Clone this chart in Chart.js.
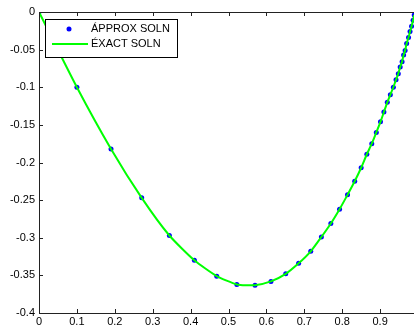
<!DOCTYPE html>
<html>
<head>
<meta charset="utf-8">
<script src="https://cdn.jsdelivr.net/npm/chart.js@4.4.0/dist/chart.umd.min.js"></script>
<style>
  html, body { margin: 0; padding: 0; background: #fff; overflow: hidden; }
  #wrap { width: 414px; height: 326px; overflow: hidden; }
</style>
</head>
<body>
<div id="wrap"><canvas id="chart" width="424" height="326"></canvas></div>
<script>
const xVals = [0, 0.100, 0.190, 0.271, 0.344, 0.410, 0.469, 0.522, 0.570, 0.612,
  0.651, 0.685, 0.717, 0.745, 0.770, 0.793, 0.814, 0.833, 0.850, 0.865,
  0.878, 0.890, 0.901, 0.910, 0.919, 0.927, 0.935, 0.942, 0.948, 0.953,
  0.958, 0.962, 0.966, 0.970, 0.975, 0.979, 0.983, 0.987, 0.990];
const approxY = [0, -0.100, -0.182, -0.247, -0.297, -0.330, -0.351, -0.362, -0.363, -0.358,
  -0.348, -0.334, -0.318, -0.299, -0.281, -0.262, -0.243, -0.225, -0.207, -0.189,
  -0.175, -0.160, -0.146, -0.133, -0.120, -0.110, -0.100, -0.090, -0.082, -0.073,
  -0.066, -0.057, -0.051, -0.042, -0.034, -0.026, -0.019, -0.011, -0.004];
const exactY = approxY.slice();
const legendLabels = ['ÁPPROX SOLN', 'ÉXACT SOLN'];

const font = '11px "Liberation Sans", Arial, sans-serif';

const toPts = ys => xVals.map((x, i) => ({ x: x, y: ys[i] }));

// matlab style box, inward ticks and legend
const boxPlugin = {
  id: 'box',
  afterDraw(chart) {
    const ctx = chart.ctx;
    const a = chart.chartArea;
    const xs = chart.scales.x, ys = chart.scales.y;
    ctx.save();
    ctx.strokeStyle = '#222';
    ctx.lineWidth = 1;
    ctx.strokeRect(Math.round(a.left) + 0.5, Math.round(a.top) + 0.5,
      Math.round(a.right - a.left), Math.round(a.bottom - a.top));
    ctx.beginPath();
    xs.ticks.forEach(t => {
      const px = Math.round(xs.getPixelForValue(t.value)) + 0.5;
      ctx.moveTo(px, a.bottom); ctx.lineTo(px, a.bottom - 4);
      ctx.moveTo(px, a.top); ctx.lineTo(px, a.top + 4);
    });
    ys.ticks.forEach(t => {
      const py = Math.round(ys.getPixelForValue(t.value)) + 0.5;
      ctx.moveTo(a.left, py); ctx.lineTo(a.left + 4, py);
      ctx.moveTo(a.right, py); ctx.lineTo(a.right - 4, py);
    });
    ctx.stroke();

    // legend
    ctx.fillStyle = '#fff';
    ctx.fillRect(45.5, 19.5, 132, 38);
    ctx.strokeStyle = '#000';
    ctx.strokeRect(45.5, 19.5, 132, 38);
    ctx.fillStyle = '#0000ff';
    ctx.beginPath();
    ctx.arc(69, 29, 2.5, 0, Math.PI * 2);
    ctx.fill();
    ctx.strokeStyle = '#00ff00';
    ctx.lineWidth = 2;
    ctx.beginPath();
    ctx.moveTo(52, 44); ctx.lineTo(88, 44);
    ctx.stroke();
    ctx.fillStyle = '#000';
    ctx.font = font;
    ctx.textBaseline = 'middle';
    ctx.fillText(legendLabels[0], 91, 29);
    ctx.fillText(legendLabels[1], 91, 44);
    ctx.restore();
  }
};

const fmt = v => {
  const n = Number(Number(v).toFixed(2));
  return n === 0 ? '0' : String(n);
};

new Chart(document.getElementById('chart'), {
  type: 'scatter',
  data: {
    datasets: [
      {
        label: legendLabels[1],
        data: toPts(exactY),
        showLine: true,
        borderColor: '#00ff00',
        borderWidth: 2,
        pointRadius: 0,
        tension: 0.2
      },
      {
        label: legendLabels[0],
        data: toPts(approxY),
        showLine: false,
        pointRadius: 2.5,
        pointBackgroundColor: '#0000ff',
        pointBorderColor: '#0000ff',
        pointBorderWidth: 0
      }
    ]
  },
  options: {
    responsive: false,
    animation: false,
    layout: { padding: { top: 12, right: 6, left: 0, bottom: 0 } },
    plugins: { legend: { display: false }, tooltip: { enabled: false } },
    scales: {
      x: {
        type: 'linear', min: 0, max: 1,
        afterFit: s => { s.height = 13; },
        grid: { display: false, drawTicks: false },
        border: { display: false },
        ticks: {
          stepSize: 0.1, padding: 2, color: '#000', maxRotation: 0,
          font: { family: '"Liberation Sans", Arial, sans-serif', size: 11 },
          callback: v => (v >= 0.999 ? '' : fmt(v))
        }
      },
      y: {
        type: 'linear', min: -0.4, max: 0,
        afterFit: s => { s.width = 39; },
        grid: { display: false, drawTicks: false },
        border: { display: false },
        ticks: {
          stepSize: 0.05, padding: 4, color: '#000',
          font: { family: '"Liberation Sans", Arial, sans-serif', size: 11 },
          callback: v => fmt(v)
        }
      }
    }
  },
  plugins: [boxPlugin]
});
</script>
</body>
</html>
